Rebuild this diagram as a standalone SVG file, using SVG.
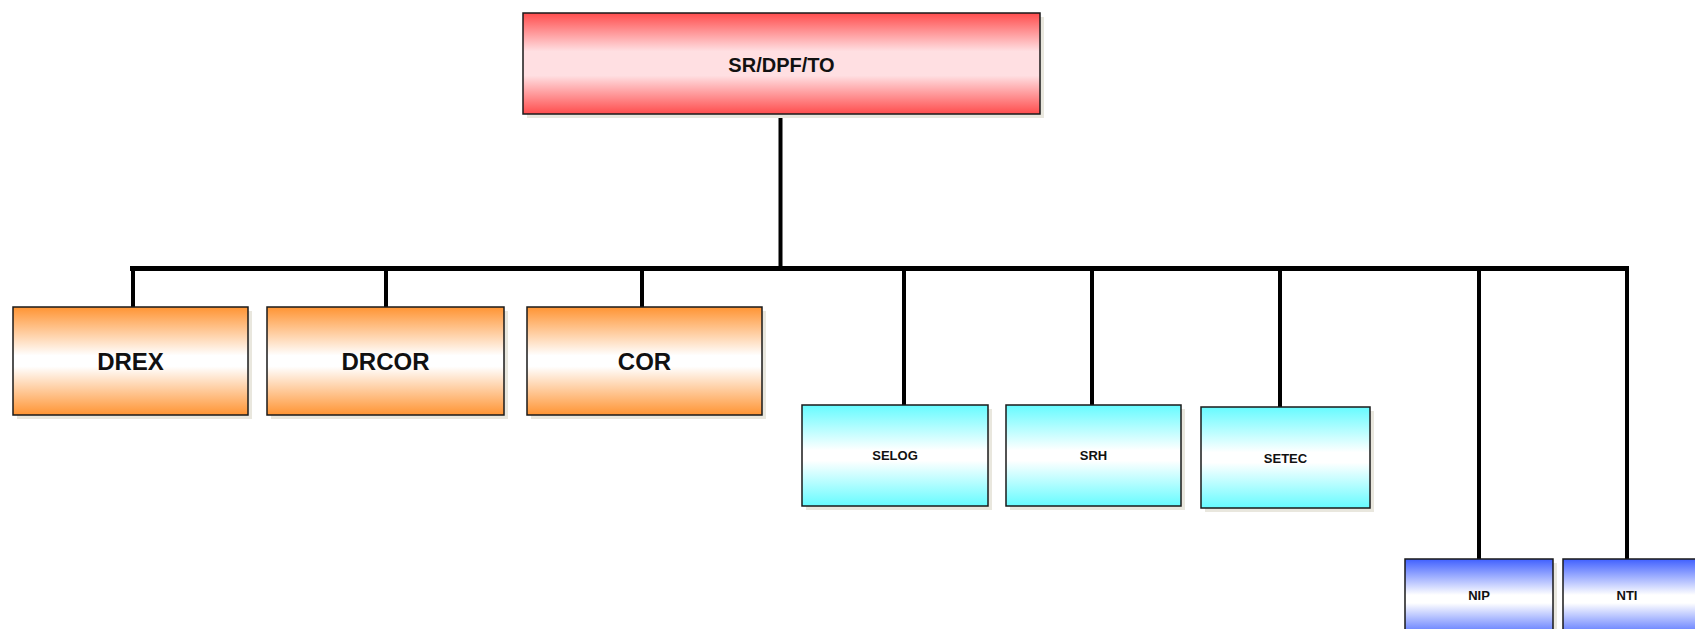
<svg xmlns="http://www.w3.org/2000/svg" width="1695" height="629" viewBox="0 0 1695 629">
<defs>
<linearGradient id="gRed" x1="0" y1="0" x2="0" y2="1">
<stop offset="0" stop-color="#ff4d4d"/><stop offset="0.38" stop-color="#ffdfe2"/><stop offset="0.62" stop-color="#ffdfe2"/><stop offset="1" stop-color="#ff4d4d"/>
</linearGradient>
<linearGradient id="gOrange" x1="0" y1="0" x2="0" y2="1">
<stop offset="0" stop-color="#ff9433"/><stop offset="0.45" stop-color="#ffffff"/><stop offset="0.55" stop-color="#ffffff"/><stop offset="1" stop-color="#ff9433"/>
</linearGradient>
<linearGradient id="gCyan" x1="0" y1="0" x2="0" y2="1">
<stop offset="0" stop-color="#66fbff"/><stop offset="0.45" stop-color="#ffffff"/><stop offset="0.55" stop-color="#ffffff"/><stop offset="1" stop-color="#66fbff"/>
</linearGradient>
<linearGradient id="gBlue" x1="0" y1="0" x2="0" y2="1">
<stop offset="0" stop-color="#4060ff"/><stop offset="0.45" stop-color="#ffffff"/><stop offset="0.55" stop-color="#ffffff"/><stop offset="1" stop-color="#4060ff"/>
</linearGradient>
</defs>
<style>
.sh{fill:#e9e7de}
.box{stroke:#1a1a1a;stroke-width:1.5}
.red{fill:url(#gRed)}
.org{fill:url(#gOrange)}
.cyn{fill:url(#gCyan)}
.blu{fill:url(#gBlue)}
.t{font-family:"Liberation Sans",Arial,sans-serif;font-weight:bold;fill:#111;text-anchor:middle;dominant-baseline:central}
.big{font-size:24px}
.mid{font-size:20px}
.sm{font-size:13px}
.ln{stroke:#000;stroke-width:4;fill:none}
.bar{stroke:#000;stroke-width:5;fill:none}
</style>
<rect width="1695" height="629" fill="#ffffff"/>
<g id="connectors">
<line class="ln" x1="780.5" y1="114" x2="780.5" y2="268"/>
<line class="bar" x1="130" y1="268.5" x2="1629" y2="268.5"/>
<line class="ln" x1="133" y1="268" x2="133" y2="307"/>
<line class="ln" x1="386" y1="268" x2="386" y2="307"/>
<line class="ln" x1="642" y1="268" x2="642" y2="307"/>
<line class="ln" x1="904" y1="268" x2="904" y2="405"/>
<line class="ln" x1="1092" y1="268" x2="1092" y2="405"/>
<line class="ln" x1="1280" y1="268" x2="1280" y2="407"/>
<line class="ln" x1="1479" y1="268" x2="1479" y2="559"/>
<line class="ln" x1="1627" y1="268" x2="1627" y2="559"/>
</g>
<g id="node-sr-dpf-to">
<rect class="sh" x="527" y="17" width="517" height="101"/>
<rect class="box red" x="523" y="13" width="517" height="101"/>
<text class="t mid" x="781.5" y="65">SR/DPF/TO</text>
</g>
<g id="node-drex">
<rect class="sh" x="17" y="311" width="235" height="108"/>
<rect class="box org" x="13" y="307" width="235" height="108"/>
<text class="t big" x="130.5" y="361">DREX</text>
</g>
<g id="node-drcor">
<rect class="sh" x="271" y="311" width="237" height="108"/>
<rect class="box org" x="267" y="307" width="237" height="108"/>
<text class="t big" x="385.5" y="361">DRCOR</text>
</g>
<g id="node-cor">
<rect class="sh" x="531" y="311" width="235" height="108"/>
<rect class="box org" x="527" y="307" width="235" height="108"/>
<text class="t big" x="644.5" y="361">COR</text>
</g>
<g id="node-selog">
<rect class="sh" x="806" y="409" width="186" height="101"/>
<rect class="box cyn" x="802" y="405" width="186" height="101"/>
<text class="t sm" x="895" y="455">SELOG</text>
</g>
<g id="node-srh">
<rect class="sh" x="1010" y="409" width="175" height="101"/>
<rect class="box cyn" x="1006" y="405" width="175" height="101"/>
<text class="t sm" x="1093.5" y="455">SRH</text>
</g>
<g id="node-setec">
<rect class="sh" x="1205" y="411" width="169" height="101"/>
<rect class="box cyn" x="1201" y="407" width="169" height="101"/>
<text class="t sm" x="1285.5" y="458">SETEC</text>
</g>
<g id="node-nip">
<rect class="sh" x="1409" y="563" width="148" height="80"/>
<rect class="box blu" x="1405" y="559" width="148" height="80"/>
<text class="t sm" x="1479" y="595">NIP</text>
</g>
<g id="node-nti">
<rect class="sh" x="1567" y="563" width="148" height="80"/>
<rect class="box blu" x="1563" y="559" width="148" height="80"/>
<text class="t sm" x="1627" y="595">NTI</text>
</g>
</svg>
